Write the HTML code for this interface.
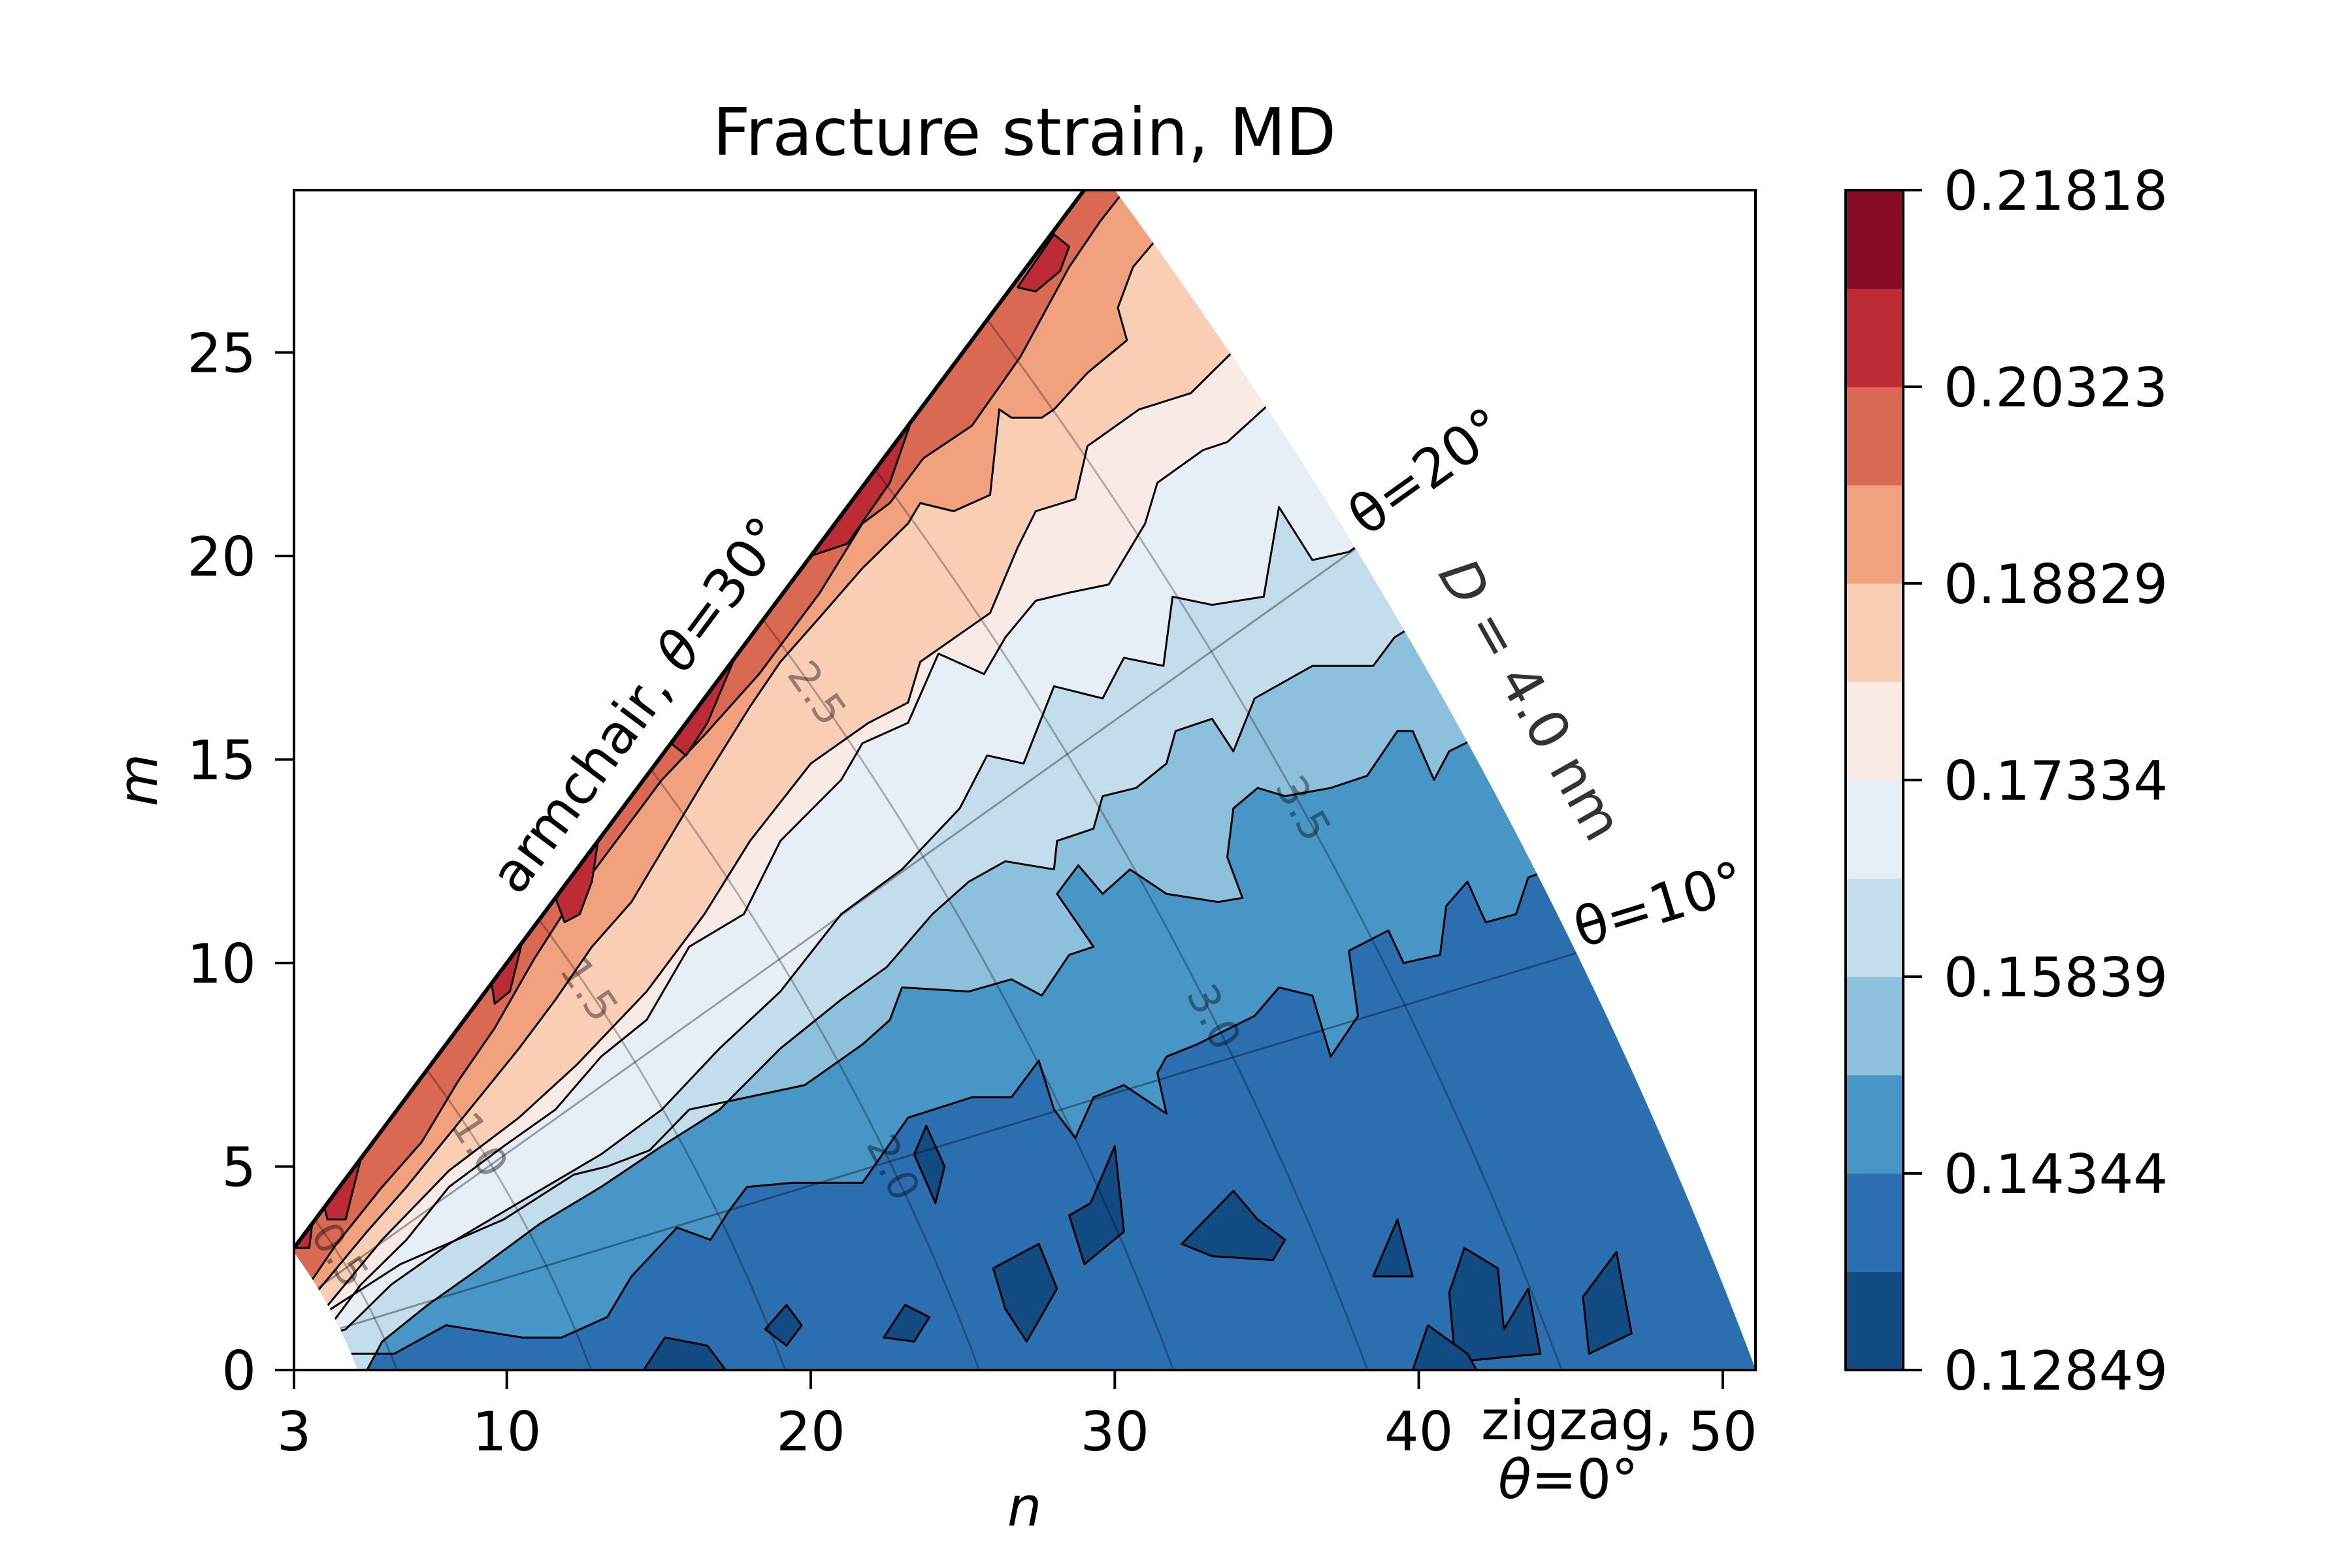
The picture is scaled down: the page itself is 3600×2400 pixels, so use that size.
<!DOCTYPE html>
<html><head><meta charset="utf-8"><style>
html,body{margin:0;padding:0;background:#fff;}
svg{display:block;font-family:"DejaVu Sans","Liberation Sans",sans-serif;}
</style></head><body>
<svg id="chart" width="3600" height="2400" viewBox="0 0 3600 2400" xmlns="http://www.w3.org/2000/svg">
<defs>
<clipPath id="axclip"><rect x="450" y="291" width="2237" height="1806"/></clipPath>
<clipPath id="triclip"><path id="tripath" d=""/></clipPath>
</defs>
<rect width="3600" height="2400" fill="#fff"/>
<g clip-path="url(#axclip)">
<g id="tri" clip-path="url(#triclip)"></g>
<g id="overlay"></g>
</g>
<g id="axes"></g>
<g id="cbar"></g>
<text x="1568" y="237" font-size="100" text-anchor="middle">Fracture strain, MD</text>
<text x="1568" y="2335" font-size="83" font-style="italic" text-anchor="middle">n</text>
<text x="0" y="0" font-size="83" font-style="italic" text-anchor="middle" transform="translate(240,1194) rotate(-90)">m</text>
<text x="0" y="0" font-size="83" text-anchor="middle" transform="translate(1000,1096) rotate(-53.3)">armchair, <tspan font-style="italic">θ</tspan>=30°</text>
<text x="0" y="0" font-size="83" text-anchor="middle" transform="translate(2200,745) rotate(-35.5)">θ=20°</text>
<text x="0" y="0" font-size="83" text-anchor="middle" transform="translate(2548,1412) rotate(-17)">θ=10°</text>
<text x="0" y="0" font-size="83" fill="#333" text-anchor="middle" transform="translate(2318,1085) rotate(60.5)"><tspan font-style="italic">D</tspan> = 4.0 nm</text>
<text x="2267" y="2203" font-size="83">zigzag,</text>
<text x="2293" y="2293" font-size="83"><tspan font-style="italic">θ</tspan>=0°</text>
</svg>
<script>
const levels=[0.12849,0.13596,0.14344,0.15091,0.15839,0.16586,0.17334,0.18081,0.18829,0.19576,0.20323,0.21071,0.21818];
const bandColors=["#124a82","#2c6fb1","#4896c6","#8cc0dc","#c4ddec","#e6eff6","#f8ebe5","#facdb5","#f2a17f","#da6954","#bd2b36","#870b24"];
const cbTickLabels=["0.12849","0.14344","0.15839","0.17334","0.18829","0.20323","0.21818"];
const xTicks=[3,10,20,30,40,50];
const yTicks=[0,5,10,15,20,25];
const diamLevels=[0.5,1.0,1.5,2.0,2.5,3.0,3.5];
const diamLabelAngles=[22.5,22,25,9.7,26.8,11.3,15.5];
const thetaLines=[10,20];
// contour boundaries (n,m), value >= level on upper-left side
const b2=[[43.6,12.1],[43.2,11.2],[42.2,11.0],[41.6,12.0],[40.9,11.4],[40.7,10.2],[39.5,10.0],[39.0,10.8],[37.7,10.3],[38.0,8.7],[37.1,7.7],[36.5,9.2],[35.4,9.4],[34.6,8.7],[32.7,8.0],[31.7,7.7],[31.4,7.3],[31.7,6.3],[30.3,7.0],[29.3,6.7],[28.7,5.7],[28.0,6.4],[27.5,7.6],[26.6,6.7],[25.3,6.7],[23.2,6.2],[21.7,4.6],[19.4,4.6],[17.9,4.5],[17.3,3.9],[16.7,3.2],[15.6,3.5],[14.1,2.3],[13.3,1.3],[11.8,0.8],[10.5,0.8],[8.0,1.1],[6.3,0.4],[4.8,0.4]];
const b3=[[41.0,15.2],[40.5,14.5],[39.8,15.7],[39.3,15.7],[38.3,14.6],[37.1,14.3],[35.6,14.1],[34.7,14.3],[33.9,13.8],[33.7,12.6],[34.2,11.6],[33.4,11.5],[31.7,11.7],[30.5,12.3],[29.6,11.7],[28.8,12.4],[28.1,11.7],[29.3,10.4],[28.5,10.2],[27.6,9.2],[26.6,9.6],[25.2,9.3],[23.0,9.4],[22.6,8.6],[21.7,8.0],[19.8,7.0],[17.9,6.7],[16.0,6.4],[14.7,5.4],[13.3,5.0],[12.2,4.8],[9.9,3.7],[6.5,2.6],[3.8,1.3]];
const b4=[[39.2,18.0],[38.5,17.3],[36.5,17.3],[34.6,16.5],[33.9,15.2],[33.2,16.0],[32.0,15.7],[31.7,14.9],[30.7,14.3],[29.6,14.1],[29.3,13.3],[28.1,13.0],[28.0,12.3],[26.4,12.5],[25.2,12.0],[24.0,11.2],[22.5,9.9],[21.0,9.1],[19.0,7.9],[17.0,6.4],[15.1,5.5],[13.1,4.5],[11.1,3.6],[9.1,2.5],[7.4,1.6],[5.9,0.7],[5.4,0.0]];
const b5=[[37.7,20.1],[36.5,19.9],[35.4,21.2],[34.9,19.0],[33.2,18.8],[31.9,19.0],[31.6,17.3],[30.3,17.5],[29.6,16.5],[28.0,16.8],[27.0,14.9],[25.8,15.1],[24.9,13.8],[23.0,12.3],[21.0,11.2],[19.0,9.3],[17.0,7.9],[15.1,6.4],[13.1,5.3],[10.6,4.2],[8.1,3.1],[6.2,2.1],[4.7,1.0]];
const b6=[[33.7,22.8],[32.9,22.6],[31.4,21.8],[31.0,20.8],[29.8,19.3],[28.5,19.1],[27.4,18.9],[26.4,18.0],[25.7,17.1],[24.2,17.6],[23.2,15.9],[21.7,15.4],[21.0,14.5],[19.0,13.0],[17.8,11.2],[16.0,10.4],[14.6,8.6],[13.1,7.7],[11.6,6.4],[9.9,5.5],[8.1,4.5],[6.7,3.2],[5.2,2.1],[4.3,1.2]];
const b7=[[32.5,24.0],[30.8,23.6],[29.1,22.7],[28.7,21.4],[27.4,21.1],[26.8,20.2],[25.9,18.6],[23.6,17.4],[23.2,16.4],[21.9,15.9],[20.0,14.9],[18.0,13.0],[16.5,11.2],[14.6,9.3],[12.3,7.5],[10.4,6.2],[8.1,4.9],[5.9,3.2],[3.9,1.4]];
const b8=[[30.6,27.1],[30.1,26.1],[30.4,25.3],[29.1,24.5],[28.0,23.6],[27.6,23.4],[26.6,23.4],[26.2,23.6],[25.9,21.5],[24.7,21.1],[23.6,21.3],[23.2,20.8],[21.7,19.7],[20.3,18.5],[19.0,17.4],[18.0,16.3],[16.5,14.5],[15.3,13.0],[14.1,11.5],[12.8,10.4],[11.6,9.1],[10.4,7.9],[9.1,6.7],[7.9,5.6],[6.7,4.5],[5.4,3.4],[4.4,2.5],[3.4,1.6]];
const b9=[[29.5,28.2],[28.5,27.1],[26.9,24.9],[25.3,23.2],[23.7,22.4],[22.6,21.3],[21.7,20.8],[20.3,19.1],[18.3,17.1],[16.5,15.6],[15.1,14.5],[13.6,13.0],[12.1,11.5],[10.9,10.1],[9.6,8.4],[8.4,7.1],[7.2,5.6],[5.9,4.5],[4.4,3.1],[3.4,2.0]];
const boundaries=[b2,b3,b4,b5,b6,b7,b8,b9];
// low-value (band 0) islands
const navyPatches=[
[[23.4,5.3],[23.8,6.0],[24.4,5.0],[24.1,4.1]],
[[29.2,4.1],[30.0,5.5],[30.3,3.4],[29.0,2.6],[28.5,3.8]],
[[26.0,2.5],[27.5,3.1],[28.1,2.0],[27.1,0.7],[26.4,1.5]],
[[22.4,0.8],[23.1,1.6],[23.9,1.3],[23.4,0.7]],
[[18.5,1.0],[19.2,1.6],[19.7,1.1],[19.2,0.6]],
[[14.5,0.0],[15.2,0.8],[16.6,0.6],[17.2,0.0]],
[[32.2,3.1],[33.9,4.4],[34.7,3.7],[35.6,3.2],[35.2,2.7],[33.2,2.8]],
[[38.5,2.3],[39.3,3.7],[39.8,2.3]],
[[41.0,1.9],[41.5,3.0],[42.6,2.5],[42.8,1.0],[43.6,2.0],[44.0,0.4],[41.2,0.2]],
[[45.4,1.8],[46.5,2.9],[47.0,0.9],[45.6,0.4]],
[[39.8,0.0],[40.3,1.1],[41.6,0.4],[41.9,0.0]],
[[50.3,2.1],[50.6,2.2],[50.7,1.9]]];
// high-value (band 10) strips along armchair edge
const redPatches=[
[[26.8,26.6],[28.0,27.9],[28.5,27.6],[28.2,27.0],[27.4,26.5]],
[[20.0,20.0],[23.3,23.3],[22.6,21.8],[21.2,20.3]],
[[15.4,15.4],[17.5,17.5],[16.6,15.9],[15.9,15.1]],
[[11.6,11.6],[13.0,13.0],[12.8,12.0],[12.4,11.2],[11.9,11.0]],
[[9.5,9.5],[10.5,10.5],[10.1,9.3],[9.6,9.0]],
[[4.0,4.0],[5.2,5.2],[4.7,3.7],[4.1,3.7]],
[[3.0,3.0],[3.6,3.6],[3.5,3.0]]];

const NS="http://www.w3.org/2000/svg";
const X0=450,XS=46.53,Y0=2097,YS=62.3;
function X(n){return X0+(n-3)*XS;}
function Y(m){return Y0-m*YS;}
const RMAX=4.0/0.0783, RMIN=5.1;
function chiral(R,deg){const t=Math.tan(deg*Math.PI/180);const r=2*t/(Math.sqrt(3)-t);const n=R/Math.sqrt(1+r+r*r);return [n,r*n];}
function P(p){return X(p[0]).toFixed(1)+","+Y(p[1]).toFixed(1);}
function mk(tag,attrs,parent){const e=document.createElementNS(NS,tag);for(const k in attrs)e.setAttribute(k,attrs[k]);parent.appendChild(e);return e;}

// region clip (constant-diameter arcs)
let tp=[];
tp.push(chiral(RMIN,0));tp.push(chiral(RMAX,0));
for(let a=0;a<=30;a+=0.5)tp.push(chiral(RMAX,a));
for(let a=30;a>=0;a-=0.5)tp.push(chiral(RMIN,a));
document.getElementById('tripath').setAttribute('d','M'+tp.map(P).join(' L')+' Z');

const tri=document.getElementById('tri');
const base=mk('rect',{x:0,y:0,width:3600,height:2400,fill:bandColors[1]},tri);


boundaries.forEach((b,i)=>{
  const f0=b[0],fl=b[b.length-1];
  const pts=[[f0[0]*1.6,f0[1]*1.6]].concat(b,[[fl[0]*0.3,fl[1]*0.3],[-15,-2],[-15,60],[90,60]]);
  const f=mk('path',{d:'M'+pts.map(P).join(' L')+' Z',fill:bandColors[i+2]},tri);
  
  
});
function patches(list,color,name){list.forEach((pp,i)=>{
  const e=mk('path',{d:'M'+pp.map(P).join(' L')+' Z',fill:color,stroke:'#000','stroke-width':3,'stroke-linejoin':'round'},tri);
  
  
});}
boundaries.forEach((b,i)=>{
  const f0=b[0],fl=b[b.length-1];
  const pts=[[f0[0]*1.6,f0[1]*1.6]].concat(b,[[fl[0]*0.3,fl[1]*0.3]]);
  const l=mk('path',{d:'M'+pts.map(P).join(' L'),fill:'none',stroke:'#000','stroke-width':3,'stroke-linejoin':'round'},tri);
  
  
});
patches(navyPatches,bandColors[0],'low-island');
patches(redPatches,bandColors[10],'high-strip');

// diameter and angle guide lines
diamLevels.forEach((d,i)=>{
  const R=d/0.0783;let pts=[];
  for(let a=0;a<=30;a+=1)pts.push(chiral(R,a));
  const l=mk('path',{d:'M'+pts.map(P).join(' L'),fill:'none',stroke:'#000','stroke-opacity':0.28,'stroke-width':3},tri);
  
  
  const p=chiral(R,diamLabelAngles[i]),p2=chiral(R,diamLabelAngles[i]+1);
  const ang=Math.atan2(Y(p2[1])-Y(p[1]),X(p2[0])-X(p[0]))*180/Math.PI+180;
  const t=mk('text',{x:0,y:0,'font-size':64,fill:'#000','fill-opacity':0.4,'text-anchor':'middle','dominant-baseline':'central',transform:`translate(${X(p[0]).toFixed(1)},${Y(p[1]).toFixed(1)}) rotate(${ang.toFixed(1)})`},tri);
  t.textContent=d.toFixed(1);
  
  
});
thetaLines.forEach(a=>{
  const p1=chiral(RMIN,a),p2=chiral(RMAX,a);
  const l=mk('line',{x1:X(p1[0]),y1:Y(p1[1]),x2:X(p2[0]),y2:Y(p2[1]),stroke:'#000','stroke-opacity':0.35,'stroke-width':3},tri);
  
  
});
// armchair edge
const ov=document.getElementById('overlay');
const ac=mk('line',{x1:X(2.9),y1:Y(2.9),x2:X(29.6),y2:Y(29.6),stroke:'#000','stroke-width':6},ov);



// axes
const ax=document.getElementById('axes');
const fr=mk('rect',{x:450,y:291,width:2237,height:1806,fill:'none',stroke:'#000','stroke-width':4},ax);


xTicks.forEach(v=>{
  const tk=mk('line',{x1:X(v),y1:2097,x2:X(v),y2:2126,stroke:'#000','stroke-width':4},ax);
  
  
  const t=mk('text',{x:X(v),y:2220,'font-size':83,'text-anchor':'middle'},ax);
  t.textContent=String(v);
  
  
});
yTicks.forEach(v=>{
  const tk=mk('line',{x1:421,y1:Y(v),x2:450,y2:Y(v),stroke:'#000','stroke-width':4},ax);
  
  
  const t=mk('text',{x:392,y:Y(v)+30,'font-size':83,'text-anchor':'end'},ax);
  t.textContent=String(v);
  
  
});

// colorbar
const cb=document.getElementById('cbar');
const CX0=2825,CX1=2913,CYB=2097,CYT=291;
function CY(v){return CYB-(v-levels[0])/(levels[levels.length-1]-levels[0])*(CYB-CYT);}
for(let i=0;i<bandColors.length;i++){
  const r=mk('rect',{x:CX0,y:CY(levels[i+1]),width:CX1-CX0,height:CY(levels[i])-CY(levels[i+1])+0.5,fill:bandColors[i]},cb);
  
  
}
const cbf=mk('rect',{x:CX0,y:CYT,width:CX1-CX0,height:CYB-CYT,fill:'none',stroke:'#000','stroke-width':4},cb);


cbTickLabels.forEach((s,i)=>{
  const v=levels[i*2];
  const tk=mk('line',{x1:CX1,y1:CY(v),x2:CX1+29,y2:CY(v),stroke:'#000','stroke-width':4},cb);
  
  
  const t=mk('text',{x:2975,y:CY(v)+30,'font-size':83},cb);
  t.textContent=s;
  
  
});
</script>
</body></html>
